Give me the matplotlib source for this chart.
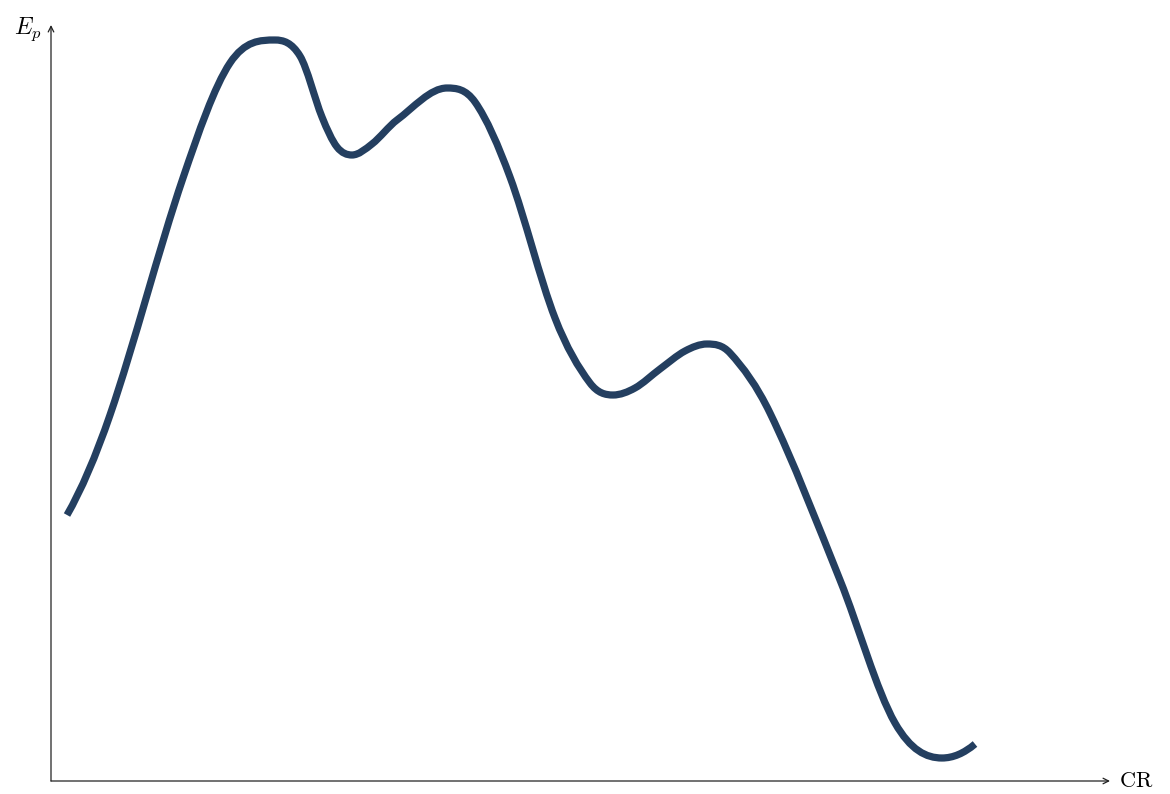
import matplotlib
matplotlib.use("Agg")
import matplotlib.pyplot as plt
from matplotlib.path import Path
from matplotlib.patches import PathPatch

# energy profile key points (x along CR, y = E_p, arbitrary units)
cr = [16, 59, 132, 179, 224, 249, 271, 286, 301, 321, 346, 396, 424,
      459, 504, 539, 562, 584, 609, 634, 656, 679, 719, 789, 844, 891, 924]
ep = [266, 366, 603, 718, 741, 725, 664, 634, 626, 637, 661, 693, 679,
      604, 463, 398, 386, 393, 412, 430, 437, 428, 368, 201, 58, 23, 37]


def smooth_path(xs, ys):
    # hermite curve through the points (flat at the turning points), as cubic beziers
    n = len(xs)
    h = [xs[i + 1] - xs[i] for i in range(n - 1)]
    d = [(ys[i + 1] - ys[i]) / h[i] for i in range(n - 1)]
    m = [0.0] * n
    for i in range(1, n - 1):
        if d[i - 1] * d[i] > 0:
            m[i] = (ys[i + 1] - ys[i - 1]) / (xs[i + 1] - xs[i - 1])
    m[0] = 2 * d[0] - m[1]
    m[-1] = 2 * d[-1] - m[-2]
    verts = [(xs[0], ys[0])]
    codes = [Path.MOVETO]
    for i in range(n - 1):
        verts += [(xs[i] + h[i] / 3, ys[i] + m[i] * h[i] / 3),
                  (xs[i + 1] - h[i] / 3, ys[i + 1] - m[i + 1] * h[i] / 3),
                  (xs[i + 1], ys[i + 1])]
        codes += [Path.CURVE4] * 3
    return Path(verts, codes)


fig = plt.figure(figsize=(11.7, 7.94), dpi=100)
ax = fig.add_axes([51 / 1170, 13 / 794, 1059 / 1170, 756 / 794])
ax.set_xlim(0, 1059)
ax.set_ylim(0, 756)
ax.axis("off")

ax.add_patch(PathPatch(smooth_path(cr, ep), facecolor="none", edgecolor="#243f60",
                       lw=5.2, capstyle="butt", joinstyle="round"))

# axes with arrow heads, tikz style
arrow = dict(arrowstyle="->", color="#222222", lw=0.9, shrinkA=0, shrinkB=0,
             mutation_scale=10)
ax.annotate("", xy=(1059, 0), xytext=(0, 0), arrowprops=arrow, annotation_clip=False)
ax.annotate("", xy=(0, 756), xytext=(0, 0), arrowprops=arrow, annotation_clip=False)

plt.rcParams["mathtext.fontset"] = "cm"
ax.text(1068, 0, r"$\mathrm{CR}$", fontsize=16, ha="left", va="center", clip_on=False)
ax.text(-9, 752, r"$E_p$", fontsize=17, ha="right", va="center", clip_on=False)

fig.savefig("out.png", dpi=100)
